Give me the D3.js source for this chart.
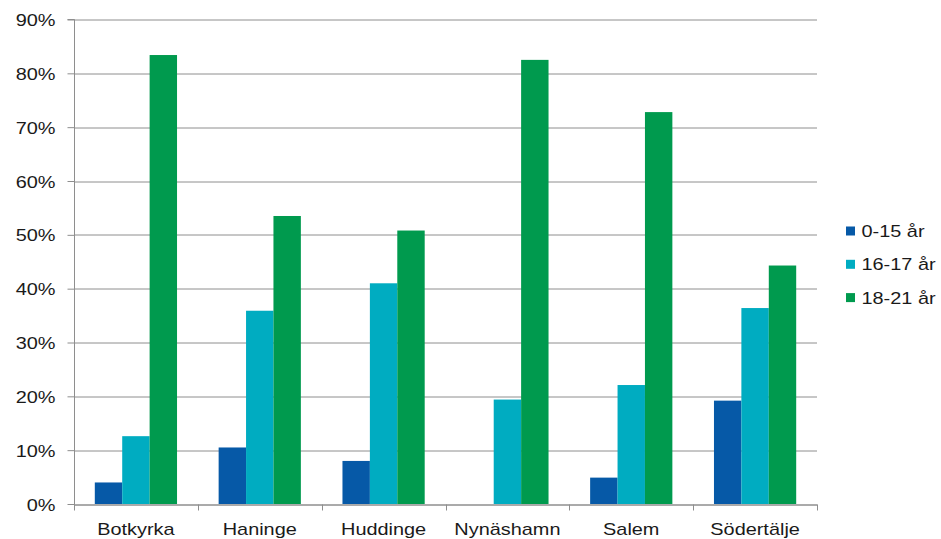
<!DOCTYPE html>
<html>
<head>
<meta charset="utf-8">
<script src="https://cdn.jsdelivr.net/npm/d3@7"></script>
<style>
  body { margin: 0; background: #fff; }
  text { font-family: "Liberation Sans", Arial, sans-serif; fill: #1a1a1a; }
</style>
</head>
<body>
<div id="adiv"></div>
<script>
var kommuner = ["Botkyrka", "Haninge", "Huddinge", "Nynäshamn", "Salem", "Södertälje"];
var serier = ["0-15 år", "16-17 år", "18-21 år"];
var alder0_15 = [4.0, 10.5, 8.0, 0, 4.9, 19.2];
var alder16_17 = [12.6, 35.9, 41.0, 19.4, 22.1, 36.4];
var alder18_21 = [83.4, 53.5, 50.8, 82.5, 72.8, 44.3];
var yTicks = [0, 10, 20, 30, 40, 50, 60, 70, 80, 90];
var farger = ["#0659a7", "#00acc1", "#009a4e"];

var allaVarden = [alder0_15, alder16_17, alder18_21];

var margin = {top: 19.5, right: 124, bottom: 35, left: 74},
    width = 941 - margin.left - margin.right,
    height = 539 - margin.top - margin.bottom;

var fs = 17, sx = 1.17;

var sVg = d3.select("#adiv")
  .append("svg")
    .attr("width", 941)
    .attr("height", 539)
  .append("g")
    .attr("transform", "translate(" + margin.left + "," + margin.top + ")");

var x = d3.scaleBand()
  .domain(kommuner)
  .range([0, width])
  .paddingInner(0)
  .paddingOuter(0);

var xs = d3.scaleBand()
  .domain(serier)
  .range([x.bandwidth() * 0.168, x.bandwidth() * 0.832]);

var y = d3.scaleLinear()
  .domain([0, 90])
  .range([height, 0]);

// gridlines
sVg.append("g")
  .selectAll("line")
  .data(yTicks)
  .enter()
  .append("line")
    .attr("x1", 0)
    .attr("x2", width)
    .attr("y1", function(d){ return Math.round(y(d)) + 0.5; })
    .attr("y2", function(d){ return Math.round(y(d)) + 0.5; })
    .attr("stroke", "#8e8e8e")
    .attr("stroke-width", 1);

// bars
var grupper = sVg.append("g")
  .selectAll("g")
  .data(serier)
  .enter()
  .append("g")
    .attr("fill", function(d, i){ return farger[i]; });

grupper.selectAll("rect")
  .data(function(d, i){ return allaVarden[i].map(function(v, j){ return {k: kommuner[j], s: d, v: v}; }); })
  .enter()
  .append("rect")
    .attr("x", function(d){ return x(d.k) + xs(d.s); })
    .attr("width", xs.bandwidth())
    .attr("y", function(d){ return y(d.v); })
    .attr("height", function(d){ return y(0) - y(d.v); });

// y axis
var yAxis = sVg.append("g")
  .attr("transform", "translate(0.5,0)")
  .call(d3.axisLeft(y).tickValues(yTicks).tickSize(7).tickPadding(12)
    .tickFormat(function(d){ return d + "%"; }));
yAxis.select(".domain").attr("stroke", "#8e8e8e").attr("d", "M-7," + y(90) + "H0V" + (height + 6));
yAxis.selectAll(".tick line").attr("stroke", "#8e8e8e");
yAxis.selectAll(".tick text")
  .style("font-size", fs + "px")
  .attr("dy", "0.36em")
  .attr("transform", function(){ var xx = +d3.select(this).attr("x"); return "translate(" + (xx - xx * sx) + ",0) scale(" + sx + ",1)"; });

// x axis
var xAxis = sVg.append("g")
  .attr("transform", "translate(0," + (height + 0.5) + ")")
  .call(d3.axisBottom(x).tickSize(0).tickPadding(18));
xAxis.select(".domain").attr("stroke", "#8e8e8e");
xAxis.selectAll(".tick text")
  .style("font-size", fs + "px")
  .attr("transform", "scale(" + sx + ",1)");

var kanter = kommuner.map(function(k){ return x(k); }).concat([width]);
xAxis.selectAll(".kant")
  .data(kanter)
  .enter()
  .append("line")
    .attr("class", "kant")
    .attr("x1", function(d){ return Math.round(d) + 0.5; })
    .attr("x2", function(d){ return Math.round(d) + 0.5; })
    .attr("y1", 0)
    .attr("y2", 6)
    .attr("stroke", "#8e8e8e");

// legend
var legend = d3.select("svg").append("g")
  .attr("transform", "translate(846,231)");
var poster = legend.selectAll("g")
  .data(serier)
  .enter()
  .append("g")
    .attr("transform", function(d, i){ return "translate(0," + (i * 33.3) + ")"; });
poster.append("rect")
  .attr("x", 0).attr("y", -4.5)
  .attr("width", 9).attr("height", 9)
  .attr("fill", function(d, i){ return farger[i]; });
poster.append("text")
  .attr("x", 0)
  .attr("y", 0)
  .attr("dy", "0.36em")
  .attr("transform", "translate(15.5,0) scale(" + sx + ",1)")
  .style("font-size", fs + "px")
  .text(function(d){ return d; });
</script>
</body>
</html>
